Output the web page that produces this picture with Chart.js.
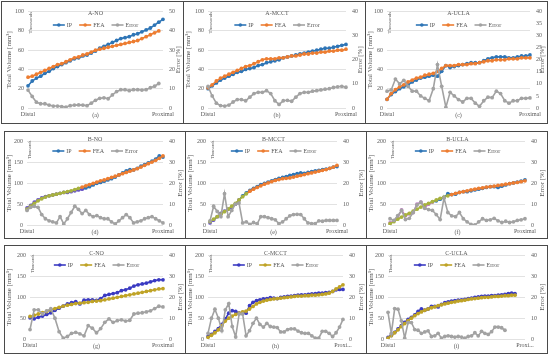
<!DOCTYPE html>
<html>
<head>
<meta charset="utf-8">
<script src="https://cdn.jsdelivr.net/npm/chart.js@4.4.0/dist/chart.umd.min.js"></script>
<style>
body{margin:0;width:550px;height:358px;background:#fff;position:relative;overflow:hidden}
.box{position:absolute;border:1px solid #4a4a4a;box-sizing:border-box}
.sep{position:absolute;width:1px;background:#4a4a4a}
canvas{position:absolute}
</style>
</head>
<body>
<div class="box" style="left:1px;top:1px;width:547px;height:123px"></div>
<div class="sep" style="left:183px;top:1px;height:123px"></div>
<div class="sep" style="left:365px;top:1px;height:123px"></div>
<div class="box" style="left:4px;top:131px;width:544px;height:108px"></div>
<div class="sep" style="left:185px;top:131px;height:108px"></div>
<div class="sep" style="left:366px;top:131px;height:108px"></div>
<div class="box" style="left:4px;top:245px;width:544px;height:109px"></div>
<div class="sep" style="left:185px;top:245px;height:109px"></div>
<div class="sep" style="left:366px;top:245px;height:109px"></div>

<canvas id="aNo" width="180" height="120" style="left:2px;top:2px"></canvas>
<canvas id="aMc" width="180" height="120" style="left:184px;top:2px"></canvas>
<canvas id="aUc" width="180" height="120" style="left:366px;top:2px"></canvas>
<canvas id="bNo" width="179" height="105" style="left:5px;top:132px"></canvas>
<canvas id="bMc" width="179" height="105" style="left:186px;top:132px"></canvas>
<canvas id="bUc" width="179" height="105" style="left:367px;top:132px"></canvas>
<canvas id="cNo" width="179" height="106" style="left:5px;top:246px"></canvas>
<canvas id="cMc" width="179" height="106" style="left:186px;top:246px"></canvas>
<canvas id="cUc" width="179" height="106" style="left:367px;top:246px"></canvas>

<script>
// A row (volumes in thousands mm3, error in %)
var aNoIP  = [23,28,31,33,36,38,41,43,45,47,49,51,52,54,55,57,59,62,64,66,68,70,72,73,74,76,77,79,81,83,86,89,92];
var aNoFEA = [32,33,35,37,39,41,43,45,46,48,50,52,53,55,56,58,60,61,62,63,64,65,66,67,68,69,70,72,74,76,78,80];
var aNoErr = [9.3,6,3,2.2,2.2,1.5,1,1,0.7,0.5,1.2,1.5,1.6,1.5,1.2,2.5,4,5,5.3,4.8,6.8,8.5,9.5,9.5,9,9.5,9.5,9.3,9.5,10.5,11.3,12.7];

var aMcIP  = [20,23,26,29,31,33,35,37,38,40,41,42,44,45,47,48,49,50,52,53,54,55,56,57,58,59,60,61,62,62,63,64,65,66];
var aMcFEA = [21,24,28,31,33,35,37,39,41,43,44,46,48,50,51,51,51,52,52,53,54,54,55,56,56,57,57,58,58,59,59,60,60,61];
var aMcErr = [9,5,2,1,0.8,1.2,2.5,3.5,3.5,3,4.5,6,6.5,6.5,7.2,6,3,1.5,3,3.2,2.8,4.5,6,6.5,6.5,7,7.2,7.5,7.8,8,8.5,8.8,9,8.6];

var aUcIP  = [9,14,17,20,22,24,27,29,31,32,33,34,33,38,44,42,43,44,45,46,47,47,47,49,51,52,53,53,53,52,52,53,54,54,55];
var aUcFEA = [9,15,19,22,24,27,29,31,32,34,35,36,38,41,44,44,44,45,45,45,46,46,47,48,49,49,50,50,50,51,51,51,52,52,52];
var aUcErr = [7,7.5,12,10,11.5,9,7,7,5,4,3,8,18,9,0.3,6.5,5,3.5,2.5,4,4,2,0.7,3,4.5,4.3,7,6,3,2,3,3,4,4,4.2];

// B row
var bNoIP  = [41,47,55,60,65,68,70,72,74,76,78,78,80,82,84,86,89,92,96,100,102,105,108,111,115,120,125,130,133,132,136,141,145,149,153,158,166,163];
var bNoFEA = [38,45,52,58,63,67,70,72,74,76,78,80,82,85,88,91,94,97,100,103,106,108,111,114,117,120,123,126,129,132,135,139,143,147,151,155,160,166];
var bNoErr = [7,8.5,9,8.5,5,3,2,1.5,1,4,0.5,3,6,9,7.5,5.5,7,5,4,4.5,3.5,3,3,1.5,0.5,2,3.5,5,3.5,1,1.5,2,3,3.5,4,3,2,1];

var bMcIP  = [5,12,20,28,33,38,42,50,60,70,77,83,88,92,97,100,103,106,109,112,114,116,119,121,123,125,124,126,128,130,131,133,134,136,139,140];
var bMcFEA = [8,14,20,26,32,38,45,52,60,68,75,81,86,90,94,98,101,104,107,109,111,112,113,115,117,119,121,123,125,127,129,131,133,136,139,143];
var bMcErr = [2,9,6.5,4,15,4,7,10,10.5,1,1.5,0.3,1.2,0.6,4,4,3.5,3,2.5,0.6,1.5,3,4.4,5,5.1,5,3,1,0.7,0.7,2,1.8,2.2,2.2,2.2,2.2];

var bUcIP  = [5,10,18,36,22,27,30,50,55,42,50,55,58,62,66,75,73,74,78,80,80,82,84,86,88,90,92,92,90,93,96,99,101,103,105,108];
var bUcFEA = [3,8,14,19,24,28,33,38,43,48,52,56,60,64,67,70,73,76,78,80,82,84,86,88,89,91,92,93,95,96,98,99,101,102,104,106];
var bUcErr = [3,2.2,4.5,7,2.6,3.2,6,9.6,11,8,7.4,7,5,2.6,13,6,4.4,4,6,3,1.5,0.3,0,1.5,3,2.2,2.5,3.2,2,1.2,1.8,1.2,1.5,2.2,2.5,3];

// C row
var cNoIP  = [51,48.5,52,55,59,63,69,74,79,84,87,89.5,84,93,94,94,92.5,97,104.5,107,109,111,116,118,122,127,130,132,134,137,140,142,142];
var cNoFEA = [54,57,60,63,66,70,73,76,79,81,83,85,86,87,88,90,91,92,94,96,98,100,102,104,106,108,110,112,114,116,118,120,121];
var cNoErr = [4.5,14,14,12,13.5,14.5,10,3.5,0.4,1.2,2.7,3.2,2.5,1.5,6.4,5.2,3,5,8,9.7,8,8.8,9.2,8.6,9,12,12.4,12.6,13,13.5,14.6,15.7,15.4];

var cMcIP  = [6,11,18,25,35,48,62,68,66,62,64,62,80,88,92,94,96,97,99,98,97,100,101,102,103,104,105,106,106,107,108,109,110,110,111,112,114,118,119,119];
var cMcFEA = [4,9,15,22,32,43,50,55,59,62,65,67,72,78,84,88,91,93,95,96,97,98,99,100,101,102,103,103,104,104,105,105,106,107,108,110,114,120,125,130];
var cMcErr = [2.7,10,14.3,10,4,14,17,6,1,12,12,1.5,4,7.5,10,7,5.7,7.5,6,5.7,5.5,3.4,3.4,4.5,4.9,4.9,3.8,3,2.7,2.7,1.5,0.4,0.4,3.7,3.7,2.7,1.2,3,5.7,9.4];

var cUcIP  = [4,9,16,24,32,40,47,52,58,66,72,69,72,78,78,77,83,87,89,91,92,93,94,95,97,98,100,101,102,103,103,104,104,105,106,107,109,110,109];
var cUcFEA = [2,8,15,22,30,37,44,50,56,61,65,69,72,75,77,80,82,84,86,88,89,91,92,93,95,96,97,98,99,100,100,101,102,102,103,104,104,105,105];
var cUcErr = [12.8,2.7,14.6,14.3,8.7,0.4,7.9,7.9,4.5,4.2,2.7,3.4,3.9,1.2,1.5,2.7,0.4,1.2,1.5,1.2,0.9,1.2,0.9,0.4,1.2,1.5,3,1.5,3.7,2.7,2.2,3.5,5.7,5.7,5.4,4.2];

var seriesNames = ['IP', 'FEA', 'Error'];
var endLabels = ['Distal', 'Proximal'];

var FONT = '"Liberation Serif", "DejaVu Serif", serif';
var TXT = '#595959';

function slices(n, last) {
    var l = [];
    for (var i = 0; i < n; i++) l.push('');
    l[0] = endLabels[0];
    l[n - 1] = last || endLabels[1];
    return l;
}

/* title, legend, captions drawn inside the plot like the excel figure */
var deco = {
    id: 'deco',
    afterDatasetsDraw: function (chart, args, o) {
        var ctx = chart.ctx, a = chart.chartArea;
        var cx = (a.left + a.right) / 2, cy = (a.top + a.bottom) / 2;
        ctx.save();
        ctx.fillStyle = TXT;
        ctx.textAlign = 'center';
        ctx.textBaseline = 'middle';
        ctx.font = '6px ' + FONT;
        ctx.fillText(o.title, cx, o.titleY);
        ctx.fillText(o.caption, cx, a.bottom + 7);

        // legend
        var ds = chart.data.datasets, lineLen = 12, gap = 7, w = 0, i;
        var widths = [];
        for (i = 0; i < ds.length; i++) {
            widths.push(ctx.measureText(ds[i].label).width);
            w += lineLen + 2 + widths[i];
        }
        w += gap * (ds.length - 1);
        var x = cx - w / 2;
        ctx.textAlign = 'left';
        for (i = 0; i < ds.length; i++) {
            var c = ds[i].legendColor;
            ctx.strokeStyle = c;
            ctx.lineWidth = 1.6;
            ctx.beginPath();
            ctx.moveTo(x, o.legendY);
            ctx.lineTo(x + lineLen, o.legendY);
            ctx.stroke();
            ctx.fillStyle = c;
            ctx.beginPath();
            ctx.arc(x + lineLen / 2, o.legendY, 1.8, 0, Math.PI * 2);
            ctx.fill();
            ctx.fillStyle = TXT;
            ctx.fillText(ds[i].label, x + lineLen + 2, o.legendY);
            x += lineLen + 2 + widths[i] + gap;
        }

        ctx.textAlign = 'center';
        // display units label
        ctx.save();
        ctx.font = o.thouSize + 'px ' + FONT;
        ctx.translate(a.left + 2.5, a.top + o.thouOff);
        ctx.rotate(-Math.PI / 2);
        ctx.fillText('Thousands', 0, 0);
        ctx.restore();

        // axis titles
        ctx.font = '7px ' + FONT;
        ctx.save();
        ctx.translate(o.volX, cy);
        ctx.rotate(-Math.PI / 2);
        ctx.fillText('Total Volume [mm\u00b3]', 0, 0);
        ctx.restore();
        ctx.save();
        ctx.translate(chart.width - 3.5, cy);
        ctx.rotate(-Math.PI / 2);
        ctx.fillText('Error [%]', 0, 0);
        ctx.restore();
        ctx.restore();
    }
};

function line(label, data, color, axis, order, alt) {
    var pc = color;
    var ds = {
        label: label,
        data: data,
        yAxisID: axis,
        order: order,
        legendColor: color,
        borderColor: color,
        backgroundColor: color,
        borderWidth: 1.6,
        pointRadius: 1.9,
        pointBorderWidth: 0,
        pointHoverRadius: 1.9,
        tension: 0
    };
    if (alt) {
        ds.pointBackgroundColor = function (c) { return c.dataIndex < alt[1] ? alt[0] : pc; };
        ds.pointBorderColor = ds.pointBackgroundColor;
        ds.segment = {borderColor: function (c) { return c.p0DataIndex < alt[1] - 1 ? alt[0] : undefined; }};
    }
    return ds;
}

function draw(id, p) {
    var W = p.w, H = p.h;
    var tickFont = {family: FONT, size: 6};
    new Chart(document.getElementById(id), {
        type: 'line',
        data: {
            labels: p.labels,
            datasets: [
                line(seriesNames[0], p.ip, p.ipColor, 'y', 2, p.ipAlt),
                line(seriesNames[1], p.fea, p.feaColor, 'y', 1, p.feaAlt),
                line(seriesNames[2], p.err, '#A2A2A2', 'y1', 0)
            ]
        },
        options: {
            responsive: false,
            animation: false,
            devicePixelRatio: 1,
            layout: {autoPadding: false, padding: {top: p.area[2], bottom: 0, left: 0, right: 0}},
            plugins: {
                legend: {display: false},
                title: {display: false},
                tooltip: {enabled: false},
                deco: {title: p.title, caption: p.caption, titleY: p.titleY, legendY: p.legendY,
                       thouSize: p.thouSize, thouOff: p.thouOff, volX: p.volX}
            },
            scales: {
                x: {
                    offset: false,
                    grid: {display: false, drawTicks: false},
                    border: {display: false},
                    ticks: {autoSkip: false, maxRotation: 0, minRotation: 0, padding: 3, font: tickFont, color: TXT},
                    afterFit: function (s) { s.height = H - p.area[3]; }
                },
                y: {
                    position: 'left',
                    min: 0, max: p.yMax,
                    ticks: {stepSize: p.yStep, padding: 4, font: tickFont, color: TXT},
                    grid: {color: '#DADADA', lineWidth: 0.8, drawTicks: false},
                    border: {display: false},
                    afterFit: function (s) { s.width = p.area[0]; }
                },
                y1: {
                    position: 'right',
                    min: 0, max: p.y1Max,
                    ticks: {stepSize: p.y1Step, padding: 6, font: tickFont, color: TXT},
                    grid: {display: false, drawTicks: false},
                    border: {display: false},
                    afterFit: function (s) { s.width = W - p.area[1]; }
                }
            }
        },
        plugins: [deco]
    });
}

var blue = '#2E75B6', orange = '#ED7D31';
var indigo = '#3A3AC2', gold = '#BFA326';

var rowA = {w: 180, h: 120, titleY: 11, legendY: 23, thouSize: 5, thouOff: 11, volX: 4.5, ipColor: blue, feaColor: orange};
var rowB = {w: 179, h: 105, titleY: 7, legendY: 19, thouSize: 4.2, thouOff: 8, volX: 4.5, yMax: 200, yStep: 50, y1Max: 40, y1Step: 10, ipColor: blue, feaColor: orange};
var rowC = {w: 179, h: 106, titleY: 7, legendY: 19, thouSize: 4.2, thouOff: 8, volX: 4.5, yMax: 200, yStep: 50, y1Max: 40, y1Step: 10, ipColor: indigo, feaColor: gold};

function cfg(base, extra) {
    var r = {}, k;
    for (k in base) r[k] = base[k];
    for (k in extra) r[k] = extra[k];
    return r;
}

draw('aNo', cfg(rowA, {title: 'A-NO', caption: '(a)', ip: aNoIP, fea: aNoFEA, err: aNoErr, labels: slices(aNoIP.length),
    area: [26, 161, 8, 106], yMax: 100, yStep: 10, y1Max: 50, y1Step: 5, volX: 7}));
draw('aMc', cfg(rowA, {title: 'A-MCCT', caption: '(b)', ip: aMcIP, fea: aMcFEA, err: aMcErr, labels: slices(aMcIP.length),
    area: [24, 162, 7, 106], yMax: 100, yStep: 20, y1Max: 40, y1Step: 10}));
draw('aUc', cfg(rowA, {title: 'A-UCLA', caption: '(c)', ip: aUcIP, fea: aUcFEA, err: aUcErr, labels: slices(aUcIP.length),
    area: [21, 164, 7, 106], yMax: 100, yStep: 20, y1Max: 40, y1Step: 5, volX: 4}));

draw('bNo', cfg(rowB, {title: 'B-NO', caption: '(d)', ip: bNoIP, fea: bNoFEA, err: bNoErr, labels: slices(bNoIP.length),
    area: [22, 158, 2, 93], ipAlt: ['#6652C6', 16], feaAlt: ['#A8B23E', 15]}));
draw('bMc', cfg(rowB, {title: 'B-MCCT', caption: '(e)', ip: bMcIP, fea: bMcFEA, err: bMcErr, labels: slices(bMcIP.length),
    area: [24, 151, 2, 93], ipAlt: ['#6652C6', 9], feaAlt: ['#A8B23E', 11]}));
draw('bUc', cfg(rowB, {title: 'B-UCLA', caption: '(f)', ip: bUcIP, fea: bUcFEA, err: bUcErr, labels: slices(bUcIP.length),
    area: [23, 158, 2, 93], ipAlt: ['#C07CC6', 12], feaAlt: ['#A8B23E', 16]}));

draw('cNo', cfg(rowC, {title: 'C-NO', caption: '(g)', ip: cNoIP, fea: cNoFEA, err: cNoErr, labels: slices(cNoIP.length),
    area: [25, 158, 3, 93]}));
draw('cMc', cfg(rowC, {title: 'C-MCCT', caption: '(h)', ip: cMcIP, fea: cMcFEA, err: cMcErr, labels: slices(cMcIP.length, 'Proxi...'),
    area: [22, 157, 3, 93]}));
draw('cUc', cfg(rowC, {title: 'C-UCLA', caption: '(i)', ip: cUcIP, fea: cUcFEA, err: cUcErr, labels: slices(42, 'Proxi...'),
    area: [21, 158, 3, 93]}));
</script>
</body>
</html>
